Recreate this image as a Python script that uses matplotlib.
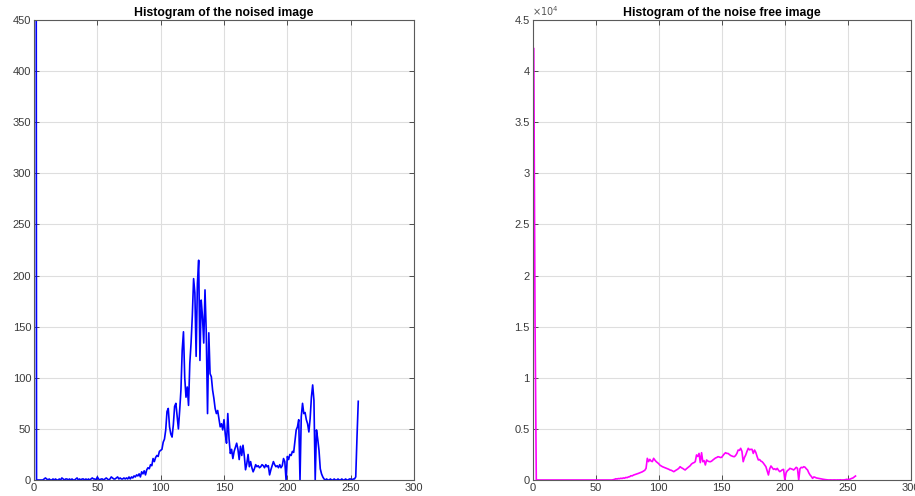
import numpy as np
import matplotlib.pyplot as plt
from matplotlib.ticker import FuncFormatter

# histogram counts, bins 1..256
noised = [
    2000, 0, 0, 0, 0, 0, 0, 1, 2, 1,
    0, 1, 0, 0, 1, 0, 1, 0, 0, 1,
    0, 2, 1, 0, 1, 1, 0, 1, 0, 1,
    0, 0, 1, 2, 0, 1, 0, 1, 1, 0,
    1, 0, 1, 0, 1, 2, 1, 1, 0, 3,
    1, 0, 1, 1, 0, 1, 2, 1, 0, 1,
    3, 2, 1, 1, 2, 3, 1, 2, 1, 1,
    2, 1, 2, 1, 3, 1, 3, 2, 4, 3,
    5, 4, 6, 3, 8, 6, 9, 5, 10, 12,
    11, 15, 14, 21, 18, 22, 24, 23, 28, 29,
    30, 37, 40, 49, 67, 70, 52, 45, 42, 54,
    72, 75, 62, 50, 68, 88, 127, 145, 100, 81,
    91, 73, 114, 134, 161, 197, 183, 121, 192, 215,
    117, 176, 160, 134, 186, 144, 65, 144, 104, 101,
    88, 80, 70, 65, 68, 60, 52, 55, 49, 59,
    45, 36, 65, 40, 26, 30, 21, 28, 32, 36,
    30, 20, 33, 24, 34, 24, 10, 16, 25, 13,
    18, 12, 8, 11, 15, 13, 14, 12, 13, 15,
    14, 12, 15, 13, 14, 5, 10, 14, 18, 15,
    13, 14, 12, 15, 12, 14, 21, 18, 0, 23,
    20, 25, 24, 28, 27, 38, 49, 52, 59, 0,
    62, 75, 65, 66, 59, 55, 47, 60, 81, 93,
    78, 0, 49, 40, 29, 11, 6, 3, 1, 0,
    1, 0, 0, 1, 0, 0, 1, 0, 0, 1,
    0, 0, 1, 0, 0, 1, 0, 0, 1, 1,
    0, 1, 1, 3, 42, 77,
]

noise_free = [
    42200, 15800, 0, 0, 0, 0, 0, 0, 0, 0,
    0, 0, 0, 0, 0, 0, 0, 0, 0, 0,
    0, 0, 0, 0, 0, 0, 0, 0, 0, 0,
    0, 0, 0, 0, 0, 0, 0, 0, 0, 0,
    0, 0, 0, 0, 0, 0, 0, 0, 0, 0,
    0, 0, 0, 0, 0, 0, 0, 0, 0, 0,
    0, 0, 0, 30, 60, 120, 100, 140, 130, 170,
    150, 200, 180, 250, 230, 300, 320, 420, 400, 480,
    520, 560, 600, 650, 700, 740, 800, 880, 950, 1140,
    2120, 1800, 2020, 1850, 1800, 2120, 1950, 1800, 1700, 1600,
    1450, 1370, 1300, 1250, 1200, 1150, 1100, 1050, 980, 950,
    880, 815, 900, 980, 1050, 1150, 1300, 1200, 1140, 1050,
    980, 1100, 1200, 1300, 1400, 1560, 1650, 1700, 1790, 2450,
    2300, 2600, 1700, 2670, 1790, 1900, 1470, 1960, 1850, 1800,
    1790, 1850, 1960, 2050, 2150, 2200, 2280, 2250, 2200, 2220,
    2400, 2550, 2670, 2600, 2600, 2500, 2400, 2350, 2300, 2280,
    2400, 2600, 2930, 2900, 3100, 2800, 1790, 2200, 2450, 2800,
    3100, 2950, 3000, 3000, 2600, 2930, 2700, 2300, 1960, 2000,
    1850, 1790, 1650, 1470, 1300, 900, 490, 1100, 1370, 1200,
    1040, 1100, 1000, 1140, 950, 815, 900, 1000, 1040, 0,
    700, 910, 1000, 1140, 1100, 1050, 980, 1100, 1240, 1150,
    0, 1100, 1240, 1200, 1300, 1250, 1100, 980, 700, 490,
    350, 160, 300, 260, 200, 180, 150, 130, 100, 80,
    65, 40, 20, 10, 0, 10, 0, 0, 10, 0,
    0, 10, 0, 20, 0, 0, 10, 30, 65, 40,
    60, 100, 160, 200, 300, 390,
]

bins = np.arange(1, 257)

plt.rcParams['font.family'] = ['Liberation Sans', 'DejaVu Sans']

fig = plt.figure(figsize=(9.15, 4.96), dpi=100)
ax1 = fig.add_axes([34 / 915, 16 / 496, 380 / 915, 460 / 496])
ax2 = fig.add_axes([532.5 / 915, 16 / 496, 378.5 / 915, 460 / 496])

ax1.plot(bins, noised, color='#0000ff', linewidth=1.2)
ax2.plot(bins, noise_free, color='#ff00ff', linewidth=1.2)

ax1.set_ylim(0, 450)
ax1.set_yticks(np.arange(0, 451, 50))
ax2.set_ylim(0, 45000)
ax2.set_yticks(np.arange(0, 45001, 5000))
ax2.yaxis.set_major_formatter(FuncFormatter(lambda v, p: f"{v / 1e4:g}"))
ax2.text(0.0, 1.004, r'$\times10^{4}$', transform=ax2.transAxes,
         fontsize=7, color='#555555', ha='left', va='bottom')

ax1.set_title('Histogram of the noised image', fontsize=8.8, fontweight='bold', pad=3)
ax2.set_title('Histogram of the noise free image', fontsize=8.8, fontweight='bold', pad=3)

for ax in (ax1, ax2):
    ax.set_xlim(0, 300)
    ax.set_xticks(np.arange(0, 301, 50))
    ax.grid(True, color='#dedede', linewidth=0.8)
    ax.set_axisbelow(True)
    ax.tick_params(direction='in', length=3.5, width=0.7, top=True, right=True,
                   labelsize=8, colors='#4d4d4d', labelcolor='#3a3a3a', pad=2)
    for s in ax.spines.values():
        s.set_color('#5a5a5a')
        s.set_linewidth(0.8)

fig.savefig('out.png', dpi=100)
